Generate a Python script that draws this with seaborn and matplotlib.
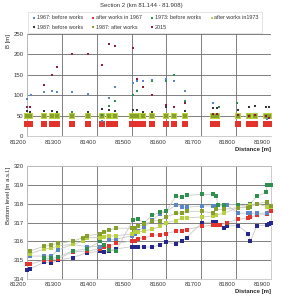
import matplotlib
matplotlib.use("Agg")
import matplotlib.pyplot as plt
import seaborn as sns
import pandas as pd

# ---------------- data: top chart (B [m]) ----------------
st_all = [81200, 81210, 81249, 81272, 81287, 81330, 81374, 81416, 81435, 81454,
          81500, 81510, 81517, 81534, 81560, 81598, 81622, 81653, 81735, 81745,
          81806, 81836, 81855, 81885, 81895]

b67_x = [81200, 81212, 81249, 81272, 81287, 81330, 81374, 81416, 81435, 81454,
         81505, 81517, 81534, 81560, 81598, 81622, 81653, 81735, 81888]
b67_y = [90, 100, 107, 110, 109, 107, 102, 38, 94, 120,
         130, 134, 136, 138, 140, 135, 110, 80, 43]

a67_y = [30] * len(st_all)

b73_x = [81287, 81330, 81416, 81435, 81454, 81505, 81517, 81560, 81598, 81622,
         81653, 81750, 81804]
b73_y = [60, 60, 51, 74, 85, 100, 110, 134, 134, 150, 85, 70, 80]

a73_y = [50] * len(st_all)

b87_x = [81200, 81210, 81249, 81272, 81287, 81374, 81416, 81435, 81454, 81505,
         81517, 81534, 81560, 81598, 81622, 81653, 81735, 81745, 81806, 81836,
         81855, 81885, 81895]
b87_y = [62, 60, 62, 62, 60, 58, 67, 65, 62, 65,
         65, 60, 60, 70, 70, 62, 68, 68, 63, 70,
         73, 72, 72]

a87_y = [50] * len(st_all)

y15_x = [81200, 81210, 81249, 81272, 81287, 81330, 81374, 81416, 81435, 81454,
         81505, 81517, 81534, 81560, 81598, 81622, 81653, 81735, 81745, 81806,
         81836, 81855, 81885, 81895]
y15_y = [70, 70, 125, 150, 170, 200, 200, 175, 225, 220,
         215, 140, 120, 100, 75, 72, 80, 55, 55, 52,
         50, 52, 48, 45]

# ---------------- data: bottom chart (bottom level) ----------------
navy_x = [81200, 81210, 81248, 81270, 81288, 81331, 81372, 81410, 81420, 81436,
          81455, 81501, 81509, 81518, 81536, 81560, 81582, 81600, 81627, 81646,
          81658, 81702, 81735, 81743, 81766, 81774, 81806, 81834, 81841, 81860,
          81888, 81894, 81900]
navy_y = [314.5, 314.55, 314.88, 314.85, 315.0, 315.14, 315.4, 315.47, 315.43, 315.5,
          315.6, 315.72, 315.72, 315.7, 315.7, 315.7, 315.82, 315.95, 315.87, 316.03,
          316.2, 317.0, 317.02, 317.05, 316.73, 316.82, 316.84, 316.42, 316.01, 316.84,
          316.87, 316.94, 317.0]

red_x = [81200, 81210, 81250, 81270, 81288, 81331, 81372, 81410, 81420, 81436,
         81455, 81501, 81509, 81518, 81536, 81560, 81582, 81600, 81627, 81646,
         81658, 81702, 81735, 81743, 81755, 81774, 81806, 81834, 81841, 81860,
         81888, 81900]
red_y = [314.8, 314.8, 315.0, 315.02, 315.07, 315.44, 315.49, 315.6, 315.68, 315.75,
         315.89, 316.03, 316.03, 316.13, 316.17, 316.33, 316.36, 316.42, 316.54, 316.57,
         316.63, 316.8, 316.87, 316.87, 316.87, 317.0, 317.17, 317.24, 317.29, 317.38,
         317.47, 317.6]

blue_x = [81210, 81250, 81270, 81288, 81331, 81372, 81410, 81420, 81436, 81455,
          81501, 81509, 81518, 81536, 81560, 81582, 81600, 81627, 81646, 81658,
          81702, 81735, 81743, 81774, 81806, 81834, 81841, 81860, 81888, 81900]
blue_y = [315.22, 315.22, 315.22, 315.54, 315.84, 315.72, 315.72, 315.82, 316.07, 316.12,
          316.3, 316.42, 316.54, 316.77, 317.12, 317.47, 317.59, 317.94, 317.82, 317.82,
          317.88, 317.88, 317.88, 317.92, 317.5, 317.5, 317.5, 317.5, 317.5, 317.88]

green_x = [81250, 81270, 81288, 81331, 81372, 81410, 81420, 81436, 81455, 81505,
           81518, 81536, 81560, 81582, 81600, 81627, 81646, 81658, 81702, 81735,
           81743, 81748, 81766, 81806, 81834, 81841, 81860, 81885, 81890, 81900]
green_y = [315.1, 315.1, 315.15, 315.5, 315.6, 316.0, 315.8, 315.55, 315.5, 317.15,
           317.2, 317.0, 317.4, 317.55, 317.6, 318.4, 318.38, 318.45, 318.5, 318.5,
           318.4, 317.95, 317.95, 317.95, 317.85, 318.0, 318.4, 318.6, 319.0, 319.0]

lime_x = [81210, 81250, 81270, 81288, 81331, 81360, 81372, 81410, 81420, 81436,
          81455, 81501, 81509, 81518, 81536, 81560, 81582, 81600, 81627, 81646,
          81658, 81702, 81735, 81743, 81766, 81806, 81834, 81841, 81860, 81888,
          81900]
lime_y = [315.35, 315.6, 315.65, 315.75, 315.85, 316.0, 316.2, 316.2, 316.25, 316.3,
          316.3, 316.4, 316.5, 316.5, 316.55, 316.65, 316.8, 317.0, 317.1, 317.25,
          317.25, 317.3, 317.35, 317.4, 317.5, 317.8, 317.85, 317.95, 318.0, 317.85,
          317.85]

olive_x = [81210, 81250, 81270, 81288, 81331, 81360, 81372, 81410, 81420, 81436,
           81455, 81501, 81509, 81518, 81536, 81560, 81582, 81600, 81627, 81646,
           81658, 81702, 81735, 81743, 81766, 81806, 81834, 81841, 81860, 81888,
           81900]
olive_y = [315.5, 315.75, 315.8, 315.9, 316.0, 316.2, 316.3, 316.4, 316.5, 316.6,
           316.7, 316.7, 316.7, 316.8, 316.9, 317.1, 317.1, 317.3, 317.5, 317.5,
           317.6, 317.6, 317.5, 317.7, 317.7, 317.8, 317.8, 317.85, 318.0, 318.1,
           317.9]

x_ticks = [81200, 81300, 81400, 81500, 81600, 81700, 81800, 81900]

# ---------------- style ----------------
sns.set_style("white")
plt.rcParams["font.family"] = ["Liberation Sans", "DejaVu Sans"]
FS = 4.3
GRID = "#6a6a6a"
SPINE = "#c4c4c4"

C_B67 = "#5b86c6"
C_A67 = "#e2342c"
C_B73 = "#2f8f4e"
C_A73 = "#b8d13c"
C_B87 = "#353535"
C_A87 = "#86a02c"
C_15 = "#8c1c40"
C_NAVY = "#25288a"

fig = plt.figure(figsize=(2.82, 3.01), dpi=100)
ax1 = fig.add_axes([0.0957, 0.548, 0.865, 0.339])
ax2 = fig.add_axes([0.0957, 0.073, 0.865, 0.375])

# ---------------- top chart ----------------
def sc(ax, x, y, c, s, lab=None):
    sns.scatterplot(x=x, y=y, ax=ax, color=c, marker="s", s=s, linewidth=0,
                    label=lab, clip_on=False, zorder=3)

sc(ax1, st_all, a67_y, C_A67, 17, "after works in 1967")
sc(ax1, st_all, a73_y, C_A73, 14, "after works in1973")
sc(ax1, st_all, a87_y, C_A87, 6, "1987: after works")
sc(ax1, b67_x, b67_y, C_B67, 4.5, "1967: before works")
sc(ax1, b73_x, b73_y, C_B73, 4.5, "1973: before works")
sc(ax1, b87_x, b87_y, C_B87, 4.5, "1987: before works")
sc(ax1, y15_x, y15_y, C_15, 4.5, "2015")

handles, labels = ax1.get_legend_handles_labels()
hmap = dict(zip(labels, handles))
order = ["1967: before works", "1987: before works", "after works in 1967",
         "1987: after works", "1973: before works", "2015", "after works in1973"]
ax1.get_legend().remove()
leg = fig.legend([hmap[o] for o in order], order, ncol=4, loc="lower left",
                 bbox_to_anchor=(0.099, 0.890, 0.83, 0.07), mode="expand",
                 fontsize=3.9, frameon=True, fancybox=False, edgecolor="#d0d0d0",
                 handletextpad=0.0, handlelength=1.0, markerscale=0.5,
                 borderaxespad=0, borderpad=0.6, columnspacing=0.3, labelspacing=0.9)
leg.get_frame().set_linewidth(0.5)
for t in leg.get_texts():
    t.set_color("#333333")

ax1.set_xlim(81200, 81900)
ax1.set_ylim(0, 250)
ax1.set_yticks([0, 50, 100, 150, 200, 250])
ax1.set_xticks(x_ticks)
ax1.set_xticklabels([str(t) for t in x_ticks], ha="right")
ax1.set_ylabel("B [m]", fontsize=FS, loc="top", labelpad=2)
ax1.set_xlabel("Distance [m]", fontsize=FS, loc="right", fontweight="bold", labelpad=2)
fig.text(0.5, 1 - 5 / 301, "Section 2 (km 81.144 - 81.908)", fontsize=FS,
         ha="center", va="center", color="#333333")

# ---------------- bottom chart ----------------
series_b = [(navy_x, navy_y, C_NAVY), (red_x, red_y, C_A67), (blue_x, blue_y, C_B67),
            (green_x, green_y, C_B73), (lime_x, lime_y, C_A73), (olive_x, olive_y, C_A87)]
for xs, ys, c in series_b:
    sns.lineplot(x=xs, y=ys, ax=ax2, color="#c9c9c9", linewidth=0.6, sort=False,
                 estimator=None, zorder=2)
for xs, ys, c in series_b:
    sc(ax2, xs, ys, c, 6)

ax2.set_xlim(81200, 81900)
ax2.set_ylim(314, 320)
ax2.set_yticks([314, 315, 316, 317, 318, 319, 320])
ax2.set_xticks(x_ticks)
ax2.set_xticklabels([str(t) for t in x_ticks], ha="right")
ax2.set_ylabel("Bottom level [m a.s.l.]", fontsize=FS, loc="top", labelpad=2)
ax2.set_xlabel("Distance [m]", fontsize=FS, loc="right", fontweight="bold", labelpad=1)

for ax in (ax1, ax2):
    ax.grid(True, color=GRID, linewidth=0.6)
    ax.set_axisbelow(True)
    ax.tick_params(labelsize=FS, length=0, pad=2.5, colors="#333333")
    for s in ax.spines.values():
        s.set_color(SPINE)
        s.set_linewidth(0.6)
ax1.spines["top"].set_visible(False)
ax1.spines["right"].set_visible(False)

fig.savefig("out.png", dpi=100)
